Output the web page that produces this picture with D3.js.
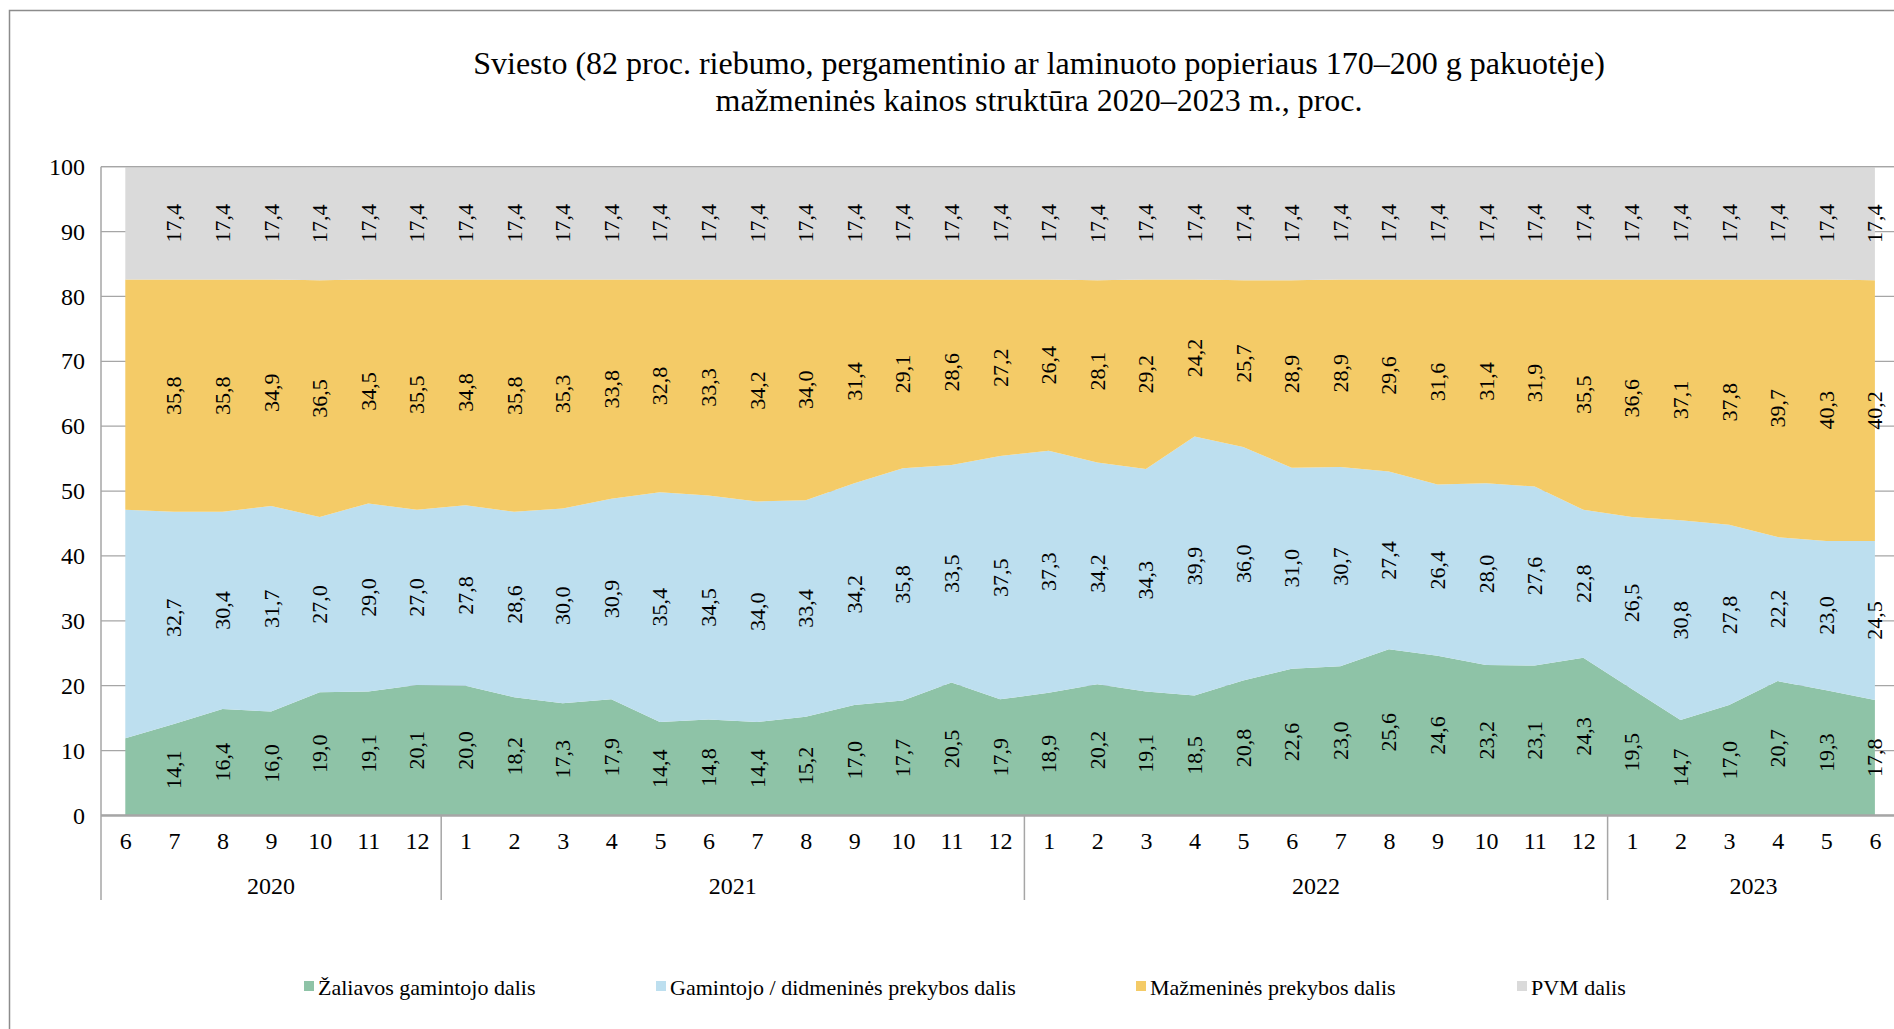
<!DOCTYPE html>
<html><head><meta charset="utf-8">
<script src="https://cdn.jsdelivr.net/npm/d3@7"></script>
<style>body{margin:0;background:#fff;} svg{display:block;font-family:"Liberation Serif","Times New Roman",serif;}</style>
</head><body>
<script>
const years = ["2020","2021","2022","2023"];
const months = [6,7,8,9,10,11,12, 1,2,3,4,5,6,7,8,9,10,11,12, 1,2,3,4,5,6,7,8,9,10,11,12, 1,2,3,4,5,6];
const monthYears = ["2020","2020","2020","2020","2020","2020","2020",
 "2021","2021","2021","2021","2021","2021","2021","2021","2021","2021","2021","2021",
 "2022","2022","2022","2022","2022","2022","2022","2022","2022","2022","2022","2022",
 "2023","2023","2023","2023","2023","2023"];
const zaliava = [11.9,14.1,16.4,16.0,19.0,19.1,20.1, 20.0,18.2,17.3,17.9,14.4,14.8,14.4,15.2,17.0,17.7,20.5,17.9, 18.9,20.2,19.1,18.5,20.8,22.6,23.0,25.6,24.6,23.2,23.1,24.3, 19.5,14.7,17.0,20.7,19.3,17.8];
const gamintojo = [35.2,32.7,30.4,31.7,27.0,29.0,27.0, 27.8,28.6,30.0,30.9,35.4,34.5,34.0,33.4,34.2,35.8,33.5,37.5, 37.3,34.2,34.3,39.9,36.0,31.0,30.7,27.4,26.4,28.0,27.6,22.8, 26.5,30.8,27.8,22.2,23.0,24.5];
const mazmenines = [35.5,35.8,35.8,34.9,36.5,34.5,35.5, 34.8,35.8,35.3,33.8,32.8,33.3,34.2,34.0,31.4,29.1,28.6,27.2, 26.4,28.1,29.2,24.2,25.7,28.9,28.9,29.6,31.6,31.4,31.9,35.5, 36.6,37.1,37.8,39.7,40.3,40.2];
const pvm = [17.4,17.4,17.4,17.4,17.4,17.4,17.4, 17.4,17.4,17.4,17.4,17.4,17.4,17.4,17.4,17.4,17.4,17.4,17.4, 17.4,17.4,17.4,17.4,17.4,17.4,17.4,17.4,17.4,17.4,17.4,17.4, 17.4,17.4,17.4,17.4,17.4,17.4];
const labelsShown = [false].concat(Array(36).fill(true));
const seriesNames = ["Žaliavos gamintojo dalis","Gamintojo / didmeninės prekybos dalis","Mažmeninės prekybos dalis","PVM dalis"];
const seriesColors = ["#8ec3a7","#bddfef","#f4cb67","#dadada"];
const yTicks = [0,10,20,30,40,50,60,70,80,90,100];
const titleLines = ["Sviesto (82 proc. riebumo, pergamentinio ar laminuoto popieriaus 170–200 g pakuotėje)","mažmeninės kainos struktūra 2020–2023 m., proc."];

const W = 1894, H = 1029;
const svg = d3.select("body").append("svg").attr("width", W).attr("height", H);

// outer frame
svg.append("rect").attr("x",9.5).attr("y",10.5).attr("width",W+20).attr("height",H+20)
  .attr("fill","none").attr("stroke","#8c8c8c").attr("stroke-width",1.5);

// title
svg.append("g").selectAll("text").data(titleLines).join("text")
  .attr("x", 1039).attr("y",(d,i)=>74+i*37).attr("text-anchor","middle")
  .attr("font-size",32).attr("fill","#000").text(d=>d);

const idx = d3.range(months.length);
const plotLeft = 101, plotTop = 166.7, plotBottom = 815.4;
const step = 48.6;
const x = d3.scaleLinear().domain([-0.5, months.length-0.5]).range([plotLeft, plotLeft + step*months.length]);
const y = d3.scaleLinear().domain([0,100]).range([plotBottom, plotTop]);

// gridlines (hidden behind areas)
svg.append("g").selectAll("line").data(yTicks).join("line")
  .attr("x1", x(-0.5)).attr("x2", x(months.length-0.5))
  .attr("y1", d=>y(d)).attr("y2", d=>y(d))
  .attr("stroke","#a6a6a6").attr("stroke-width",1.3);

const table = idx.map(i => ({i, vals:[zaliava[i],gamintojo[i],mazmenines[i],pvm[i]]}));
const stack = d3.stack().keys([0,1,2,3]).value((d,k)=>d.vals[k]);
const layers = stack(table);
const area = d3.area().x(d=>x(d.data.i)).y0(d=>y(d[0])).y1(d=>y(d[1]));
svg.append("g").selectAll("path").data(layers).join("path")
  .attr("d", area).attr("fill",(d,k)=>seriesColors[k]);

// top line and bottom axis line
svg.append("line").attr("x1",x(-0.5)).attr("x2",W).attr("y1",y(100)).attr("y2",y(100)).attr("stroke","#a6a6a6").attr("stroke-width",1.3);
svg.append("line").attr("x1",x(-0.5)).attr("x2",W).attr("y1",y(0)).attr("y2",y(0)).attr("stroke","#a6a6a6").attr("stroke-width",2.5);

// y axis
const yAxis = d3.axisLeft(y).tickValues(yTicks).tickSize(0).tickPadding(16);
const ya = svg.append("g").attr("transform",`translate(${plotLeft},0)`).call(yAxis);
ya.select(".domain").remove();
ya.selectAll("text").attr("font-size",24).attr("font-family","Liberation Serif").attr("fill","#000");
svg.append("line").attr("x1",plotLeft).attr("x2",plotLeft).attr("y1",plotTop).attr("y2",900).attr("stroke","#a6a6a6").attr("stroke-width",1.5);

// x axis month labels
const xAxis = d3.axisBottom(x).tickValues(idx).tickSize(0).tickPadding(17).tickFormat(i=>months[i]);
const xa = svg.append("g").attr("transform",`translate(0,${plotBottom})`).call(xAxis);
xa.select(".domain").remove();
xa.selectAll("text").attr("font-size",24).attr("font-family","Liberation Serif").attr("fill","#000");

// year separators and labels
const yearGroups = years.map(yr => { const ii = idx.filter(i=>monthYears[i]===yr); return {yr, first:ii[0], last:ii[ii.length-1]}; });
svg.append("g").selectAll("line").data(yearGroups.slice(1)).join("line")
  .attr("x1",d=>x(d.first-0.5)).attr("x2",d=>x(d.first-0.5)).attr("y1",plotBottom).attr("y2",900)
  .attr("stroke","#a6a6a6").attr("stroke-width",1.5);
svg.append("g").selectAll("text").data(yearGroups).join("text")
  .attr("x",d=>(x(d.first-0.5)+x(d.last+0.5))/2).attr("y",894).attr("text-anchor","middle")
  .attr("font-size",24).attr("fill","#000").text(d=>d.yr);

// data labels
const lab = svg.append("g");
layers.forEach((layer,k)=>{
  lab.selectAll(null).data(layer.filter(d=>labelsShown[d.data.i])).join("text")
    .attr("transform", d=>`translate(${x(d.data.i)+7.5},${y((d[0]+d[1])/2)}) rotate(-90)`)
    .attr("text-anchor","middle").attr("font-size",22).attr("fill","#000")
    .text(d=>d3.format(".1f")(d.data.vals[k]).replace(".",","));
});

// legend
const legendX = [318, 670, 1150, 1531];
const lg = svg.append("g").selectAll("g").data(seriesNames).join("g")
  .attr("transform",(d,i)=>`translate(${legendX[i]},988)`);
lg.append("rect").attr("x",-14).attr("y",-7).attr("width",10).attr("height",10).attr("fill",(d,i)=>seriesColors[i]);
lg.append("text").attr("x",0).attr("y",7).attr("font-size",22).attr("fill","#000").text(d=>d);
</script>
</body></html>
